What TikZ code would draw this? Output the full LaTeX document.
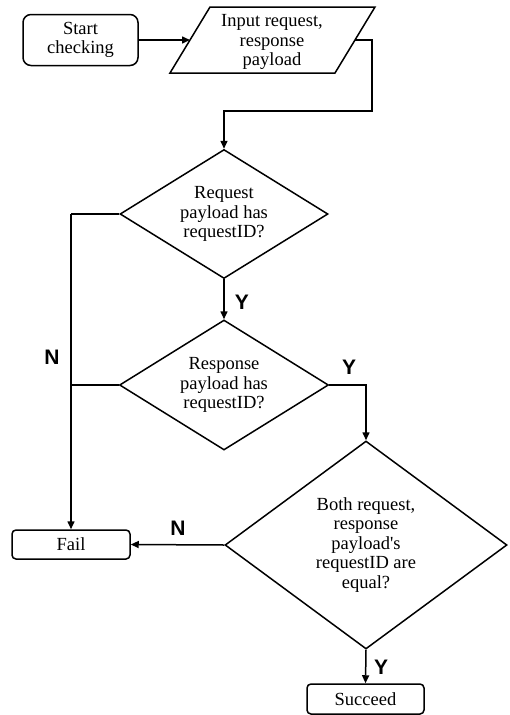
\documentclass[tikz,border=0pt]{standalone}
\usepackage{fontspec}
\setmainfont{Liberation Serif}
\setsansfont{Liberation Sans}
\usetikzlibrary{shapes.geometric,arrows.meta}
\begin{document}
\begin{tikzpicture}[x=1pt,y=-1pt,
  line width=1.5pt,
  txt/.style={font=\fontsize{18.5}{19.5}\selectfont, align=center, inner sep=0pt},
  termbox/.style={draw, rounded corners=4pt, txt},
  dec/.style={draw, diamond, inner sep=0pt, txt},
  lab/.style={font=\sffamily\bfseries\fontsize{21}{21}\selectfont, inner sep=0pt},
  arr/.style={-{Triangle[length=8pt,width=7pt]}},
]
\useasboundingbox (0,0) rectangle (509,715);
% start
\node[termbox, rounded corners=8pt, minimum width=115pt, minimum height=51pt] (start) at (80.5,40) {Start\\checking};
% input parallelogram
\draw (210,7) -- (375,7) -- (335,73) -- (170,73) -- cycle;
\node[txt] (input) at (272,42) {Input request,\\response\\payload};
\coordinate (inL) at (190,40);
\coordinate (inR) at (355,40);
% decisions
\node[dec, aspect=1.6, minimum width=208pt, minimum height=129pt] (d1) at (224,214) {Request\\payload has\\requestID?};
\node[dec, aspect=1.6, minimum width=209pt, minimum height=130pt] (d2) at (224,385) {Response\\payload has\\requestID?};
\node[dec, aspect=1.36, minimum width=282pt, minimum height=208pt] (d3) at (366,545) {Both request,\\response\\payload\textquotesingle s\\requestID are\\equal?};
% terminals
\node[termbox, minimum width=118pt, minimum height=29pt] (fail) at (71,544.5) {Fail};
\node[termbox, minimum width=117pt, minimum height=30pt] (succ) at (365.5,699) {Succeed};
% connectors
\draw[arr] (start.east) -- (inL);
\draw[arr] (inR) -- (372,40) -- (372,111) -- (224,111) -- (d1.north);
\draw[arr] (d1.south) -- (d2.north);
\draw (d1.west) -- (71,214);
\draw (d2.west) -- (71,385);
\draw[arr] (71,214) -- (fail.north);
\draw[arr] (d2.east) -- (d3.north |- d2.east) -- (d3.north);
\draw[arr] (d3.west) -- (fail.east);
\draw[arr] (d3.south) -- (succ.north);
% labels
\node[lab] (ly1) at (242,302) {Y};
\node[lab] (ln1) at (52,357) {N};
\node[lab] (ly2) at (349,367) {Y};
\node[lab] (ln2) at (178,528) {N};
\node[lab] (ly3) at (381,667) {Y};
\end{tikzpicture}
\end{document}
